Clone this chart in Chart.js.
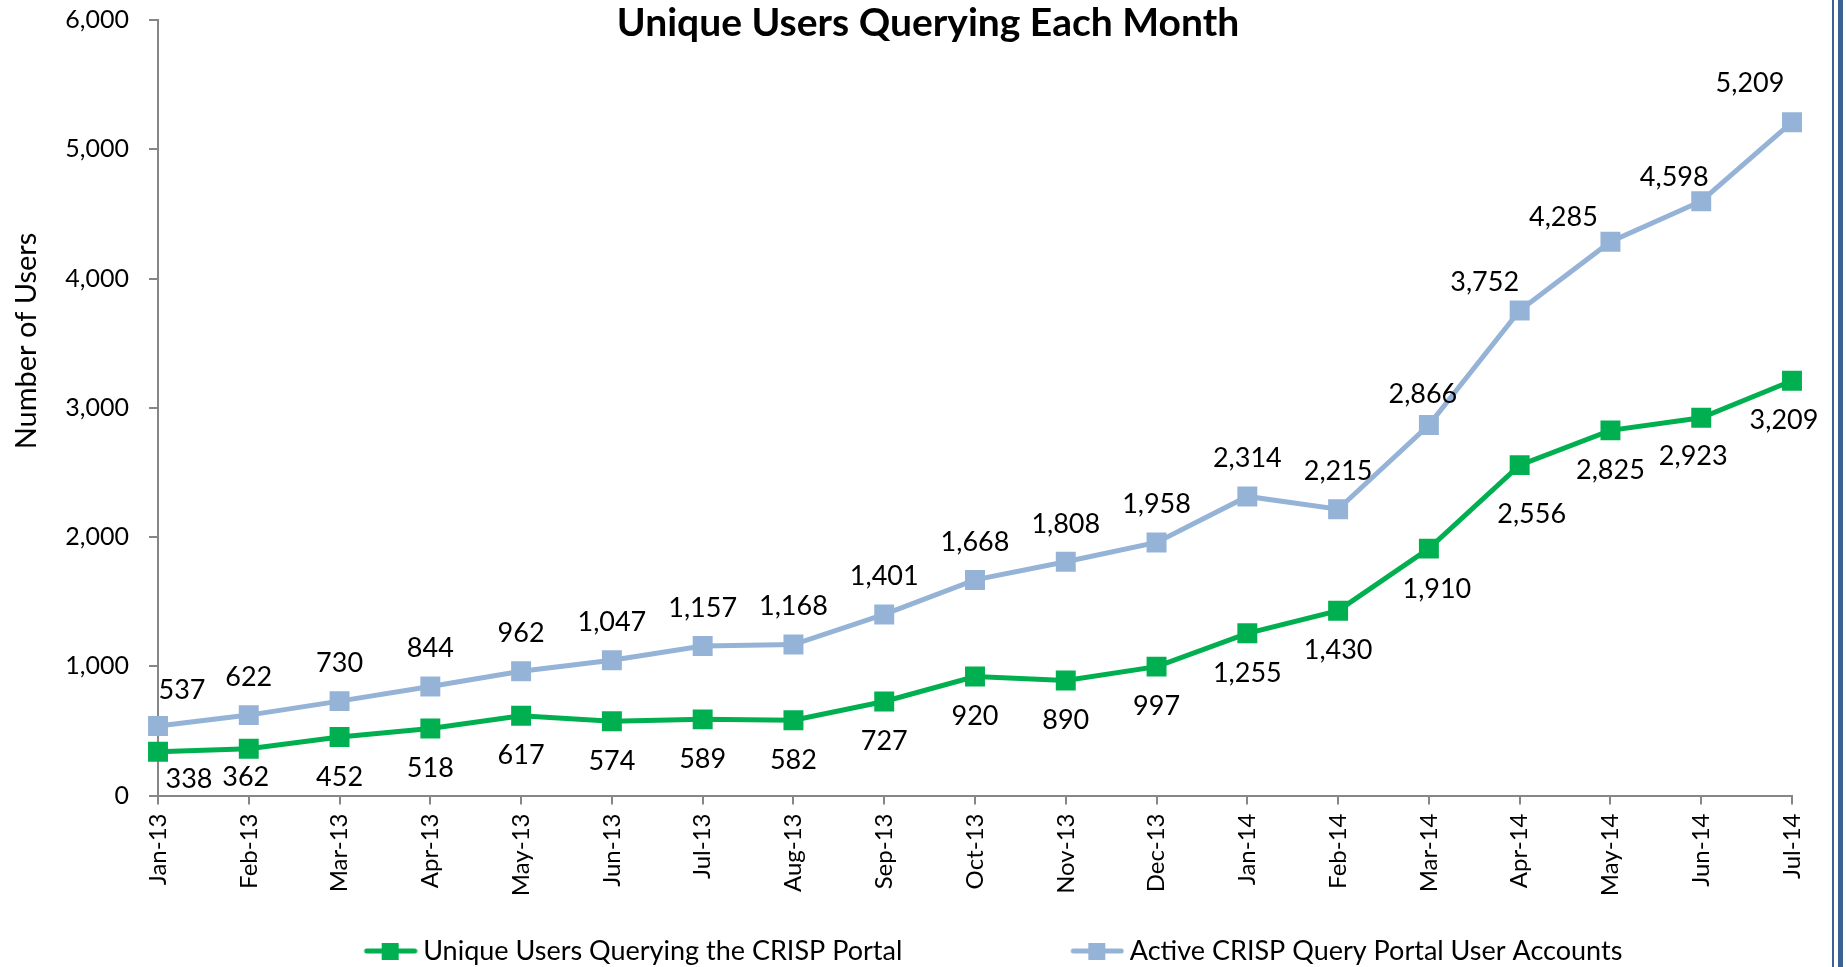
<!DOCTYPE html>
<html><head><meta charset="utf-8">
<script src="https://cdn.jsdelivr.net/npm/chart.js@4.4.1/dist/chart.umd.min.js"></script>
<style>
html,body{margin:0;padding:0;background:#fff;overflow:hidden;}
#wrap{position:relative;width:1846px;height:967px;}
canvas{position:absolute;left:0;top:0;}
.edge1{position:absolute;left:1832px;top:0;width:2px;height:967px;background:#3d6393;}
.edge2{position:absolute;left:1838px;top:0;width:5px;height:967px;background:#3d6393;}
</style></head><body>
<div id="wrap"><canvas id="c" width="1846" height="967"></canvas><div class="edge1"></div><div class="edge2"></div></div>
<script>
const months = ['Jan-13','Feb-13','Mar-13','Apr-13','May-13','Jun-13','Jul-13','Aug-13','Sep-13','Oct-13','Nov-13','Dec-13','Jan-14','Feb-14','Mar-14','Apr-14','May-14','Jun-14','Jul-14'];
const uniqueUsers = [338,362,452,518,617,574,589,582,727,920,890,997,1255,1430,1910,2556,2825,2923,3209];
const activeAccounts = [537,622,730,844,962,1047,1157,1168,1401,1668,1808,1958,2314,2215,2866,3752,4285,4598,5209];
const seriesNames = ['Unique Users Querying the CRISP Portal','Active CRISP Query Portal User Accounts'];
const titleText = 'Unique Users Querying Each Month';
const yAxisTitle = 'Number of Users';
const yMin = 0, yMax = 6000, yStep = 1000;

const GREEN = '#00B050', BLUE = '#95B3D7', AXIS = '#868686';
const FONT = 'Lato';
const TICK_SIZE = 25, XTICK_SIZE = 24, LABEL_SIZE = 27, LEGEND_SIZE = 27;
const LEGEND_BOX = 176;

// legend marker: line + square, sitting at the right end of the legend box
function legendMarker(color){
  const c = document.createElement('canvas'); c.width = LEGEND_BOX + 16; c.height = 22;
  const g = c.getContext('2d');
  const r = c.width;
  g.strokeStyle = color; g.lineWidth = 5; g.lineCap = 'round';
  g.beginPath(); g.moveTo(r - 51, 11); g.lineTo(r - 3, 11); g.stroke();
  g.fillStyle = color; g.fillRect(r - 36, 3, 17, 17);
  return c;
}
const markers = [legendMarker(GREEN), legendMarker(BLUE)];

// label placement: default offset per series, with a few nudges [dx, dy]
const labelStyle = [
  {dy: 40, nudge: {0:[31,27],1:[-3,29],14:[8,41],15:[12,49],17:[-8,39],18:[-8,40]}},
  {dy: -38, nudge: {0:[24,-36],14:[-6,-31],15:[-35,-28],16:[-47,-24],17:[-27,-24],18:[-42,-39]}}
];

const dataLabels = {
  id: 'dataLabels',
  afterDatasetsDraw(chart){
    const ctx = chart.ctx;
    ctx.save();
    ctx.font = LABEL_SIZE + 'px ' + FONT;
    ctx.fillStyle = '#000';
    ctx.textAlign = 'center';
    ctx.textBaseline = 'middle';
    chart.data.datasets.forEach((ds, di) => {
      const meta = chart.getDatasetMeta(di);
      const st = labelStyle[di];
      meta.data.forEach((pt, i) => {
        const n = st.nudge[i] || [0, st.dy];
        ctx.fillText(ds.data[i].toLocaleString('en-US'), pt.x + n[0], pt.y + n[1]);
      });
    });
    ctx.restore();
  },
  afterDraw(chart){
    const ctx = chart.ctx;
    ctx.save();
    ctx.font = '29px ' + FONT;
    ctx.fillStyle = '#000';
    ctx.textAlign = 'center';
    ctx.textBaseline = 'middle';
    ctx.translate(27, 341);
    ctx.rotate(-Math.PI / 2);
    ctx.fillText(yAxisTitle, 0, 0);
    ctx.restore();
  }
};

new Chart(document.getElementById('c'), {
  type: 'line',
  data: {
    labels: months,
    datasets: [
      {label: seriesNames[0], data: uniqueUsers, borderColor: GREEN, backgroundColor: GREEN,
       borderWidth: 5, pointStyle: 'rect', pointRadius: 14.1, pointHoverRadius: 14.1,
       pointBorderWidth: 0, pointBackgroundColor: GREEN, tension: 0},
      {label: seriesNames[1], data: activeAccounts, borderColor: BLUE, backgroundColor: BLUE,
       borderWidth: 5, pointStyle: 'rect', pointRadius: 14.1, pointHoverRadius: 14.1,
       pointBorderWidth: 0, pointBackgroundColor: BLUE, tension: 0}
    ]
  },
  options: {
    responsive: false,
    animation: false,
    layout: {padding: {top: 0, left: 64, right: 54, bottom: -7.5}},
    plugins: {
      title: {display: true, text: titleText, color: '#000',
              font: {family: FONT, size: 39, weight: 'bold'}, padding: {top: 0, bottom: -26.8}},
      legend: {
        position: 'bottom', fullSize: true,
        labels: {
          color: '#000', font: {family: FONT, size: LEGEND_SIZE}, padding: 38,
          usePointStyle: true, pointStyleWidth: LEGEND_BOX,
          generateLabels(chart){
            const items = Chart.defaults.plugins.legend.labels.generateLabels(chart);
            items.forEach((it, i) => { it.pointStyle = markers[i]; });
            return items;
          }
        }
      },
      tooltip: {enabled: false}
    },
    scales: {
      x: {
        offset: false,
        border: {color: AXIS, width: 2},
        grid: {display: true, drawOnChartArea: false, drawTicks: true, tickLength: 9, color: AXIS, lineWidth: 2},
        ticks: {color: '#000', font: {family: FONT, size: XTICK_SIZE}, minRotation: 90, maxRotation: 90, autoSkip: false, padding: 9},
        afterFit(s){ s.height = 104; s.paddingLeft = 0; s.paddingRight = 0; }
      },
      y: {
        min: yMin, max: yMax,
        border: {color: AXIS, width: 2},
        grid: {display: true, drawOnChartArea: false, drawTicks: true, tickLength: 9, color: AXIS, lineWidth: 2},
        ticks: {stepSize: yStep, color: '#000', font: {family: FONT, size: TICK_SIZE}, padding: 20,
                callback: v => v.toLocaleString('en-US')},
        afterFit(s){ s.width = 94; s.paddingTop = 0; s.paddingBottom = 0; }
      }
    }
  },
  plugins: [dataLabels]
});
</script>
</body></html>
